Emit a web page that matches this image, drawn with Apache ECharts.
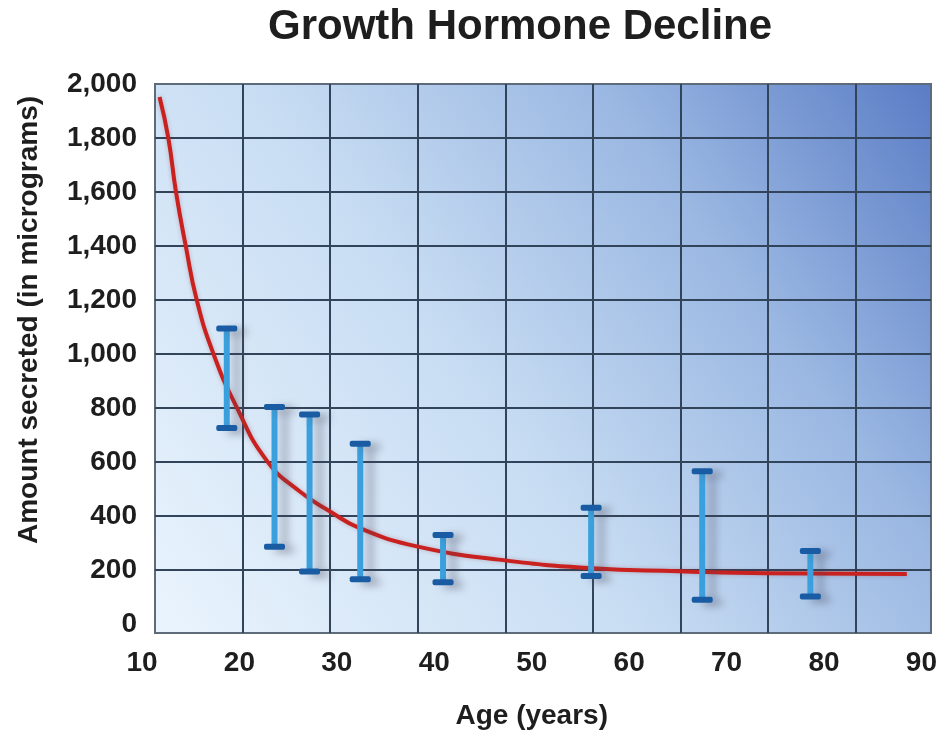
<!DOCTYPE html>
<html>
<head>
<meta charset="utf-8">
<script src="https://cdn.jsdelivr.net/npm/echarts@6/dist/echarts.min.js"></script>
<style>
html,body{margin:0;padding:0;background:#fff;}
#chart{width:940px;height:735px;}
</style>
</head>
<body>
<div id="chart"></div>
<script>
// ---- data ----
var titleText = 'Growth Hormone Decline';
var xAxisName = 'Age (years)';
var yAxisName = 'Amount secreted (in micrograms)';
var xTicks = [10, 20, 30, 40, 50, 60, 70, 80, 90];
var yTicks = [0, 200, 400, 600, 800, 1000, 1200, 1400, 1600, 1800, 2000];

// fitted decline curve (age, micrograms)
var curveAge   = [11.8, 12.7, 13.5, 14.5, 15.6, 17.3, 19.7, 22.8, 26.2, 29.3, 32.4, 38.2, 47.1, 56.2, 65.1, 74.1, 88.5];
var curveValue = [1952, 1800, 1596, 1396, 1200, 1000, 800, 600, 485, 411, 348, 281, 230, 200, 189, 181, 178];

// measured ranges (age, low, high)
var barAge  = [18.7, 23.6, 27.2, 32.4, 40.9, 56.1, 67.5, 78.6];
var barLow  = [721, 280, 188, 159, 148, 171, 83, 95];
var barHigh = [1091, 799, 771, 663, 323, 425, 560, 264];

// ---- chart ----
var FONT = '"Liberation Sans", Arial, Helvetica, sans-serif';
var chart = echarts.init(document.getElementById('chart'), null, {renderer: 'canvas'});

var curveData = curveAge.map(function (a, i) { return [a, curveValue[i]]; });
var barData = barAge.map(function (a, i) { return [a, barLow[i], barHigh[i]]; });

function renderBar(params, api) {
  var x = api.value(0);
  var lo = api.coord([x, api.value(1)]);
  var hi = api.coord([x, api.value(2)]);
  var sw = 6, cw = 21, ch = 6;
  var shadow = {shadowBlur: 9, shadowOffsetX: 10, shadowOffsetY: 3, shadowColor: 'rgba(70,70,90,0.4)'};
  return {
    type: 'group',
    children: [
      {type: 'rect', shape: {x: lo[0] - sw / 2, y: hi[1], width: sw, height: lo[1] - hi[1]},
       style: Object.assign({fill: '#3aa0dd'}, shadow)},
      {type: 'rect', shape: {x: hi[0] - cw / 2, y: hi[1] - ch / 2, width: cw, height: ch, r: 2},
       style: Object.assign({fill: '#1a5ca3'}, shadow)},
      {type: 'rect', shape: {x: lo[0] - cw / 2, y: lo[1] - ch / 2, width: cw, height: ch, r: 2},
       style: Object.assign({fill: '#1a5ca3'}, shadow)}
    ]
  };
}

var option = {
  animation: false,
  backgroundColor: '#ffffff',
  title: {
    text: titleText,
    left: 268,
    top: 6,
    padding: 0,
    textStyle: {fontFamily: FONT, fontSize: 42, fontWeight: 'bold', color: '#1e1e1e'}
  },
  grid: [
    { // frame, background and column lines
      left: 155, right: 9, top: 84, bottom: 102,
      show: true,
      borderColor: '#5d6b7b',
      borderWidth: 2,
      backgroundColor: new echarts.graphic.LinearGradient(0, 1, 1, 0, [
        {offset: 0, color: '#eaf4fd'},
        {offset: 0.42, color: '#c8ddf3'},
        {offset: 0.72, color: '#9ab7e2'},
        {offset: 1, color: '#5a7cc5'}
      ])
    },
    { // value rows and y labels
      left: 155, right: 9, top: 84, bottom: 111
    },
    { // data and x labels
      left: 142, right: 18, top: 84, bottom: 111
    }
  ],
  xAxis: [
    {
      gridIndex: 0, type: 'value', min: 0, max: 8.86, interval: 1,
      axisLine: {show: false}, axisTick: {show: false}, axisLabel: {show: false},
      splitLine: {show: true, showMinLine: false, showMaxLine: false, lineStyle: {color: '#32445a', width: 2}}
    },
    {
      gridIndex: 1, type: 'value', show: false, min: 0, max: 1
    },
    {
      gridIndex: 2, type: 'value', min: xTicks[0], max: xTicks[xTicks.length - 1], interval: 10,
      axisLine: {show: false}, axisTick: {show: false}, splitLine: {show: false},
      axisLabel: {margin: 27, fontFamily: FONT, fontSize: 28, fontWeight: 'bold', color: '#1e1e1e'},
      name: xAxisName, nameLocation: 'middle', nameGap: 80,
      nameTextStyle: {fontFamily: FONT, fontSize: 28, fontWeight: 'bold', color: '#1e1e1e'}
    }
  ],
  yAxis: [
    {gridIndex: 0, type: 'value', show: false, min: 0, max: 1},
    {
      gridIndex: 1, type: 'value', min: yTicks[0], max: yTicks[yTicks.length - 1], interval: 200,
      axisLine: {show: false}, axisTick: {show: false},
      axisLabel: {
        margin: 18, fontFamily: FONT, fontSize: 28, fontWeight: 'bold', color: '#1e1e1e',
        padding: [8, 0, 0, 0],
        formatter: function (v) { return v.toLocaleString('en-US'); }
      },
      splitLine: {show: true, showMinLine: false, showMaxLine: false, lineStyle: {color: '#32445a', width: 2}},
      name: yAxisName, nameLocation: 'middle', nameGap: 112,
      nameTextStyle: {fontFamily: FONT, fontSize: 28, fontWeight: 'bold', color: '#1e1e1e', padding: [0, 0, 0, 68]}
    },
    {gridIndex: 2, type: 'value', show: false, min: yTicks[0], max: yTicks[yTicks.length - 1]}
  ],
  series: [
    {
      type: 'line', xAxisIndex: 2, yAxisIndex: 2,
      data: curveData, smooth: 0.5, showSymbol: false,
      lineStyle: {color: '#c8211f', width: 4, shadowBlur: 4, shadowColor: 'rgba(120,20,20,0.25)'},
      z: 3
    },
    {
      type: 'custom', xAxisIndex: 2, yAxisIndex: 2,
      data: barData, renderItem: renderBar, z: 4
    }
  ]
};
chart.setOption(option);
</script>
</body>
</html>
